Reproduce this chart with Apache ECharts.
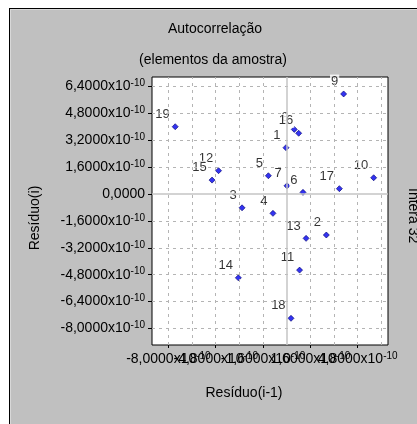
<!DOCTYPE html>
<html><head><meta charset="utf-8">
<script src="https://cdn.jsdelivr.net/npm/echarts@6/dist/echarts.min.js"></script>
<style>
html,body{margin:0;padding:0;background:#fff;}
#frame{position:absolute;left:9px;top:8px;width:408px;height:416px;background:#c0c0c0;border-left:1px solid #000;border-top:1px solid #000;box-shadow:inset 1px 1px 0 #d8d8d8;}
#chart{position:absolute;left:0;top:0;width:417px;height:424px;}
</style></head><body>
<div id="frame"></div><div id="chart"></div>
<script>
// values in units of 1e-10
const pointLabels = ['1','2','3','4','5','6','7','8','9','10','11','12','13','14','15','16','17','18','19'];
const residualPrev = [-0.05, 2.68, -3.02, -0.93, -1.24, 1.10, 0.02, 0.51, 3.85, 5.88, 0.87, -4.61, 1.31, -3.27, -5.05, 0.81, 3.56, 0.29, -7.54];
const residualCurr = [2.76, -2.44, -0.82, -1.15, 1.09, 0.10, 0.49, 3.85, 5.96, 0.97, -4.53, 1.39, -2.64, -4.99, 0.83, 3.62, 0.32, -7.40, 4.01];
const xTicks = [-8, -4.8, -1.6, 1.6, 4.8];
const yTicks = [-8, -6.4, -4.8, -3.2, -1.6, 0, 1.6, 3.2, 4.8, 6.4];
const gridValuesX = [-8, -6.4, -4.8, -3.2, -1.6, 1.6, 3.2, 4.8, 6.4];
const gridValuesY = [-8, -6.4, -4.8, -3.2, -1.6, 1.6, 3.2, 4.8, 6.4];

const X_MIN = -9.11, X_MAX = 6.85, Y_MIN = -8.99, Y_MAX = 6.97;
const FF = '"Liberation Sans", Arial, sans-serif';
const fmt = v => {
  if (Math.abs(v) < 1e-9) return '{a|0,0000}';
  return '{a|' + v.toFixed(4).replace('.', ',') + 'x10}{s|-10}';
};
const rich = {
  a: {fontSize: 14, lineHeight: 16, padding: [5, 0, 5, 0], fontFamily: FF, color: '#000'},
  s: {fontSize: 10, lineHeight: 10, verticalAlign: 'top', fontFamily: FF, color: '#000'}
};
const data = residualPrev.map((x, i) => [x, residualCurr[i]]);
// the overlapping x labels are split over two stacked axes so none is dropped
const xLabelsA = xTicks.filter((v, i) => i % 2 === 0);
const xLabelsB = xTicks.filter((v, i) => i % 2 === 1);

const xAxisBase = (labels, ticks) => ({
  type: 'value', min: X_MIN, max: X_MAX, position: 'bottom', offset: 0,
  axisLine: {show: false, onZero: false},
  axisTick: {show: !!ticks, customValues: ticks || labels, length: 3, lineStyle: {color: '#000'}},
  axisLabel: {customValues: labels, formatter: fmt, margin: 6, rich: rich, hideOverlap: false, interval: 0, showMinLabel: true, showMaxLabel: true},
  splitLine: {show: false}
});

const chart = echarts.init(document.getElementById('chart'), null, {renderer: 'canvas'});
chart.setOption({
  animation: false,
  backgroundColor: 'transparent',
  grid: {left: 152, top: 77, width: 236, height: 268, show: true, backgroundColor: '#fff', borderColor: '#000', borderWidth: 1},
  xAxis: [xAxisBase(xLabelsA, xTicks), xAxisBase(xLabelsB, null)],
  yAxis: {
    type: 'value', min: Y_MIN, max: Y_MAX,
    axisLine: {show: false, onZero: false},
    axisTick: {show: true, customValues: yTicks, length: 4, lineStyle: {color: '#000'}},
    axisLabel: {customValues: yTicks, formatter: fmt, margin: 7, rich: rich, hideOverlap: false, showMinLabel: true, showMaxLabel: true},
    splitLine: {show: false}
  },
  series: [
    {
      type: 'line', data: [], z: 1, silent: true, xAxisIndex: 0,
      markLine: {
        silent: true, symbol: ['none', 'none'], label: {show: false}, animation: false,
        data: gridValuesX.map(v => ({xAxis: v, lineStyle: {type: [3, 4], color: '#b4b4b4', width: 1}}))
          .concat(gridValuesY.map(v => ({yAxis: v, lineStyle: {type: [3, 4], color: '#b4b4b4', width: 1}})))
          .concat([{xAxis: 0, lineStyle: {type: 'solid', color: '#c4c4c4', width: 1.5}}, {yAxis: 0, lineStyle: {type: 'solid', color: '#c4c4c4', width: 1.5}}])
      }
    },
    {
      type: 'scatter', z: 3, data: data, xAxisIndex: 0,
      symbol: 'diamond', symbolSize: 6,
      itemStyle: {color: '#0000ee', borderColor: '#000070', borderWidth: 0.8},
      label: {
        show: true, formatter: p => pointLabels[p.dataIndex],
        position: [-1, -9], align: 'right', verticalAlign: 'middle',
        color: '#000', fontSize: 13, fontFamily: FF, backgroundColor: '#fff', padding: [1, 1, 0, 1]
      },
      emphasis: {disabled: true}
    }
  ],
  graphic: [
    {type: 'text', x: 215, y: 29, style: {text: 'Autocorrelação', font: '14px ' + FF, fill: '#000', align: 'center', verticalAlign: 'middle'}},
    {type: 'text', x: 213, y: 60, style: {text: '(elementos da amostra)', font: '14px ' + FF, fill: '#000', align: 'center', verticalAlign: 'middle'}},
    {type: 'text', x: 35, y: 218, rotation: Math.PI / 2, style: {text: 'Resíduo(i)', font: '14px ' + FF, fill: '#000', align: 'center', verticalAlign: 'middle'}},
    {type: 'text', x: 244, y: 393, style: {text: 'Resíduo(i-1)', font: '14px ' + FF, fill: '#000', align: 'center', verticalAlign: 'middle'}},
    {type: 'text', x: 406, y: 188, rotation: -Math.PI / 2, style: {text: 'Intera 32', font: '14px ' + FF, fill: '#000', align: 'left', verticalAlign: 'bottom'}}
  ]
});
</script>
</body></html>
